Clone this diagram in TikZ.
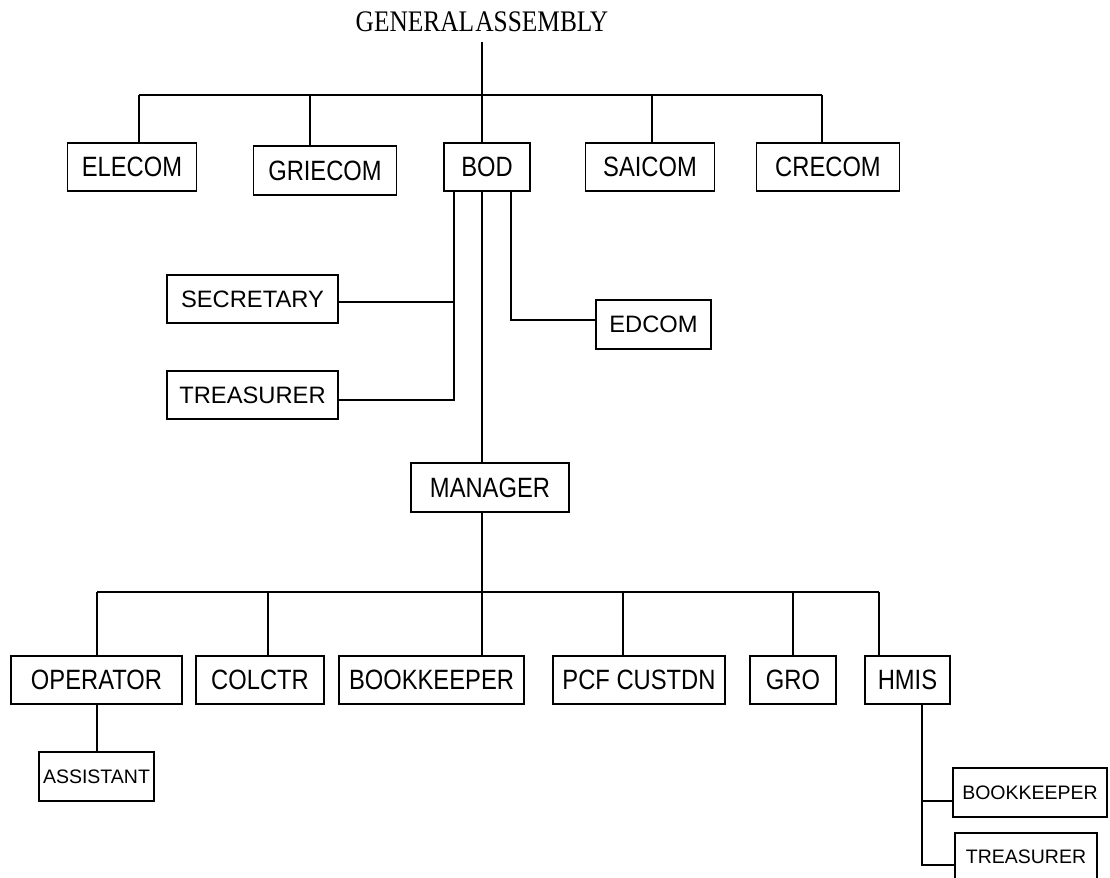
\documentclass[tikz,border=0pt]{standalone}
\usepackage{fontspec}
\setsansfont{Liberation Sans}
\newfontfamily\narrowfont{Liberation Sans}[FakeStretch=0.85]
\newfontfamily\titlefont{Liberation Serif}[FakeStretch=0.85,WordSpace=0.2]

\tikzset{
	unit/.style={draw, line width=1.1pt, inner sep=0pt, minimum height=0.96cm, font=\narrowfont\fontsize{15.9}{18}\selectfont},
	midunit/.style={unit, font=\sffamily\fontsize{13.5}{15}\selectfont},
	subunit/.style={unit, font=\sffamily\fontsize{11.1}{13}\selectfont},
	link/.style={line width=1.05pt}
}

\begin{document}
\begin{tikzpicture}[x=0.02cm,y=-0.02cm]
	\useasboundingbox (0,0) rectangle (1110,877);
	\node[inner sep=0pt,font=\titlefont\fontsize{17}{20}\selectfont] (ga) at (482,22) {GENERAL ASSEMBLY};
	\coordinate (top) at (482,95);
	\draw[link] ([yshift=-0.2cm]ga.south) -- (top);
	\draw[link] (139,95) -- (822,95);

	\node[unit,minimum width=2.58cm] (elecom) at (132,167) {ELECOM};
	\node[unit,minimum width=2.86cm,minimum height=0.98cm] (griecom) at (325,170.5) {GRIECOM};
	\node[unit,minimum width=1.72cm] (bod) at (487,167) {BOD};
	\node[unit,minimum width=2.58cm] (saicom) at (650,167) {SAICOM};
	\node[unit,minimum width=2.86cm] (crecom) at (828,167) {CRECOM};
	\foreach \x/\n in {139/elecom,310/griecom,482/bod,652/saicom,822/crecom}
		\draw[link] (\x,95) -- (\n.north -| \x,0);

	\node[midunit,minimum width=3.42cm] (sec) at (252.5,299) {SECRETARY};
	\node[midunit,minimum width=3.42cm] (treas) at (252.5,395) {TREASURER};
	\node[midunit,minimum width=2.3cm,minimum height=0.98cm] (edcom) at (653.5,324.5) {EDCOM};
	\draw[link] (bod.south -| 454,0) -- (454,400) -- (treas.east |- 0,400);
	\draw[link] (454,302) -- (sec.east |- 0,302);
	\draw[link] (bod.south -| 511,0) -- (511,320) -- (edcom.west |- 0,320);

	\node[unit,minimum width=3.16cm,minimum height=0.98cm] (mgr) at (490,487.5) {MANAGER};
	\draw[link] (bod.south -| 482,0) -- (mgr.north -| 482,0);
	\coordinate (low) at (482,592);
	\draw[link] (mgr.south -| 482,0) -- (low);
	\draw[link] (97,592) -- (879,592);

	\node[unit,minimum width=3.42cm] (oper) at (96.5,680) {OPERATOR};
	\node[unit,minimum width=2.56cm] (colctr) at (260,680) {COLCTR};
	\node[unit,minimum width=3.7cm] (bkeep) at (431.5,680) {BOOKKEEPER};
	\node[unit,minimum width=3.44cm] (pcf) at (639,680) {PCF CUSTDN};
	\node[unit,minimum width=1.72cm] (gro) at (793,680) {GRO};
	\node[unit,minimum width=1.7cm] (hmis) at (907.5,680) {HMIS};
	\foreach \x/\n in {97/oper,268/colctr,482/bkeep,623/pcf,793/gro,879/hmis}
		\draw[link] (\x,592) -- (\n.north -| \x,0);

	\node[subunit,minimum width=2.3cm,minimum height=0.98cm] (assist) at (96.5,776.5) {ASSISTANT};
	\draw[link] (oper.south -| 97,0) -- (assist.north -| 97,0);

	\node[subunit,minimum width=3.08cm,minimum height=0.98cm] (bkeep2) at (1030,792.5) {BOOKKEEPER};
	\node[subunit,minimum width=2.84cm] (treas2) at (1026,857) {TREASURER};
	\draw[link] (hmis.south -| 922,0) -- (922,865) -- (treas2.west |- 0,865);
	\draw[link] (922,801) -- (bkeep2.west |- 0,801);
\end{tikzpicture}
\end{document}
